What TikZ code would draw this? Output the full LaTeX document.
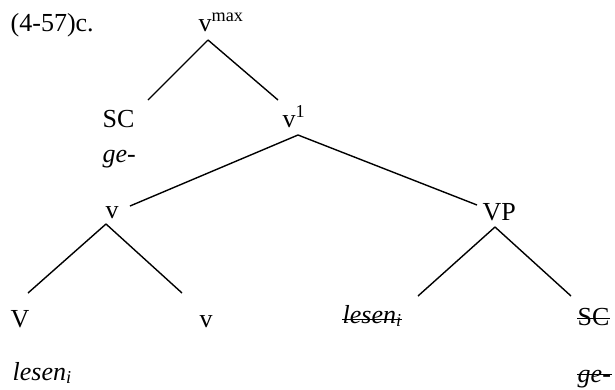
\documentclass[tikz,border=0pt]{standalone}
\usepackage{fontspec}
\setmainfont{Liberation Serif}
\usetikzlibrary{calc}

\begin{document}
\begin{tikzpicture}[x=1pt,y=-1pt,line width=1.4pt,
  cat/.style={anchor=base west,inner sep=0pt,font=\fontsize{26}{30}\selectfont},
  strike/.style={line width=1pt}]
\useasboundingbox (0,0) rectangle (615,389);
%------------------------------------------------------------------------
% The categories
%------------------------------------------------------------------------
\node[cat] (ex) at (10,31) {(4-57)c.};
\node[cat] (vmax) at (198,31) {v\textsuperscript{max}};
\node[cat] (sc) at (102,127) {SC};
\node[cat] (ge) at (102,162) {\textit{ge-}};
\node[cat] (vone) at (282,127) {v\textsuperscript{1}};
\node[cat] (vsmall) at (105,218) {v};
\node[cat] (vp) at (482,220) {VP};
\node[cat] (vbig) at (10,327) {V};
\node[cat] (vlow) at (199,327) {v};
\node[cat] (lesen) at (12,380) {\textit{lesen\textsubscript{i}}};
\node[cat] (trace) at (342,323) {\textit{lesen\textsubscript{i}}};
\node[cat] (sctrace) at (577,325) {SC};
\node[cat] (getrace) at (577,382) {\textit{ge-}};
% the deleted copies
\draw[strike] ($(trace.base west)+(0,-4)$) -- ($(trace.base east)+(0,-4)$);
\draw[strike] ($(sctrace.base west)+(0,-7)$) -- ($(sctrace.base east)+(0,-7)$);
\draw[strike] ($(getrace.base west)+(0,-8)$) -- ($(getrace.base east)+(0,-8)$);
%------------------------------------------------------------------------
% The branches
%------------------------------------------------------------------------
\draw ($(vmax.base west)+(10,9)$) -- ($(sc.base west)+(46,-27)$);
\draw ($(vmax.base west)+(10,9)$) -- ($(vone.base west)+(-4,-27)$);
\draw ($(vone.base west)+(16,8)$) -- ($(vsmall.base west)+(25,-12)$);
\draw ($(vone.base west)+(16,8)$) -- ($(vp.base west)+(-5,-15)$);
\draw ($(vsmall.base west)+(1,6)$) -- ($(vbig.base west)+(18,-34)$);
\draw ($(vsmall.base west)+(1,6)$) -- ($(vlow.base west)+(-17,-34)$);
\draw ($(vp.base west)+(13,7)$) -- ($(trace.base west)+(76,-27)$);
\draw ($(vp.base west)+(13,7)$) -- ($(sctrace.base west)+(-6,-29)$);

\end{tikzpicture}
\end{document}
